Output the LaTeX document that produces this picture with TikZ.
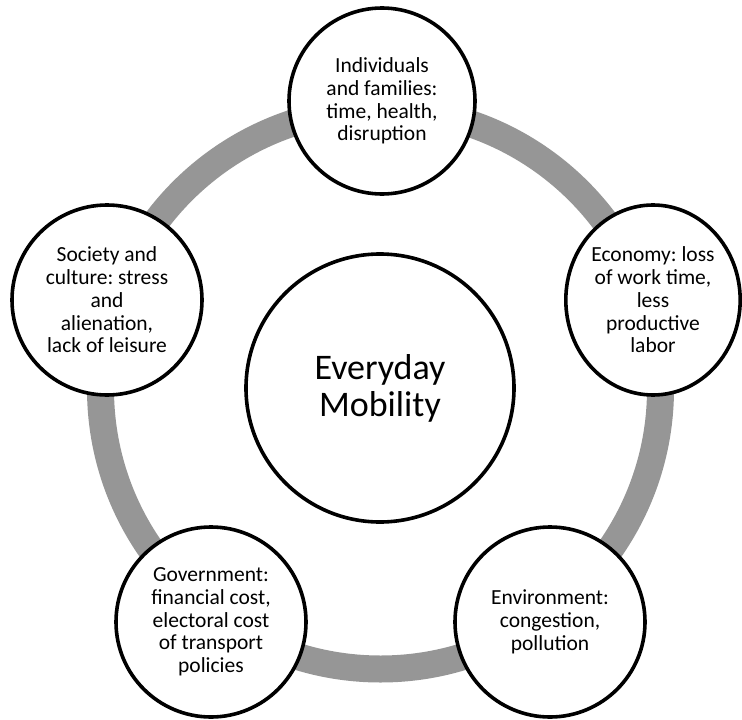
\documentclass[tikz,border=0pt]{standalone}
\usepackage{fontspec}
\setmainfont{Carlito}
\usetikzlibrary{shapes.geometric}
\definecolor{ringgray}{RGB}{150,150,150}
\tikzset{
  bubble/.style={circle, draw=black, line width=3.6pt, fill=white, inner sep=0pt, align=center,
    font=\fontsize{21.5}{22.7}\selectfont},
  hub/.style={bubble, font=\fontsize{36}{37}\selectfont},
  ring/.style={draw=ringgray, line width=27pt}
}
\begin{document}
\frenchspacing
\begin{tikzpicture}[x=1pt,y=-1pt]
\useasboundingbox (0,0) rectangle (742,720);
\coordinate (rc) at (380.5,389);
\draw[ring] (rc) circle (280);
\node[hub, minimum size=268pt] (hub) at (380,388) {Everyday\\Mobility};
\node[bubble, minimum size=186pt] (ind) at (382,101) {Individuals\\and families:\\time, health,\\disruption};
\node[bubble, minimum size=190pt] (soc) at (107,300) {Society and\\culture: stress\\and\\alienation,\\lack of leisure};
\node[bubble, ellipse, minimum width=172pt, minimum height=190pt] (eco) at (653,300) {Economy: loss\\of work time,\\less\\productive\\labor};
\node[bubble, minimum size=190pt] (gov) at (211,622) {Government:\\financial cost,\\electoral cost\\of transport\\policies};
\node[bubble, minimum size=190pt] (env) at (550,622) {Environment:\\congestion,\\pollution};
\end{tikzpicture}
\end{document}
